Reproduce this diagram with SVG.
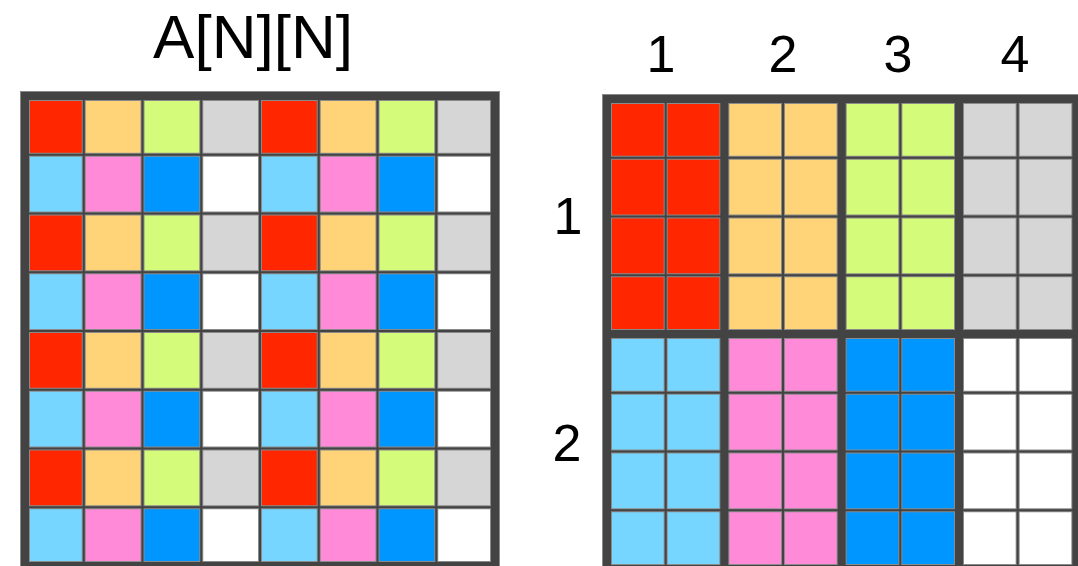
<svg xmlns="http://www.w3.org/2000/svg" width="1078" height="566" viewBox="0 0 1078 566">
<style>
.r{fill:#ff2600}.o{fill:#ffd479}.g{fill:#d4fb79}.s{fill:#d6d6d6}.b{fill:#76d6ff}.p{fill:#ff8ad8}.a{fill:#0096ff}.w{fill:#ffffff}
.tg{stroke:#8a8a8a;stroke-width:4;fill:none}.td{stroke:#434343;stroke-width:2;fill:none}
.kg{stroke:#8a8a8a;stroke-width:10;fill:none}.kd{stroke:#434343;stroke-width:8;fill:none}
.lbl{font-family:"Liberation Sans",Arial,sans-serif;fill:#000;text-anchor:middle}
</style>
<rect width="1078" height="566" fill="#ffffff"/>
<text class="lbl" x="253" y="58" font-size="62">A[N][N]</text>
<g id="left-grid">
<g id="left-cells">
<rect class="r" x="25" y="96" width="58.75" height="58.75"/><rect class="o" x="83.75" y="96" width="58.75" height="58.75"/><rect class="g" x="142.5" y="96" width="58.75" height="58.75"/><rect class="s" x="201.25" y="96" width="58.75" height="58.75"/><rect class="r" x="260" y="96" width="58.75" height="58.75"/><rect class="o" x="318.75" y="96" width="58.75" height="58.75"/><rect class="g" x="377.5" y="96" width="58.75" height="58.75"/><rect class="s" x="436.25" y="96" width="58.75" height="58.75"/>
<rect class="b" x="25" y="154.75" width="58.75" height="58.75"/><rect class="p" x="83.75" y="154.75" width="58.75" height="58.75"/><rect class="a" x="142.5" y="154.75" width="58.75" height="58.75"/><rect class="w" x="201.25" y="154.75" width="58.75" height="58.75"/><rect class="b" x="260" y="154.75" width="58.75" height="58.75"/><rect class="p" x="318.75" y="154.75" width="58.75" height="58.75"/><rect class="a" x="377.5" y="154.75" width="58.75" height="58.75"/><rect class="w" x="436.25" y="154.75" width="58.75" height="58.75"/>
<rect class="r" x="25" y="213.5" width="58.75" height="58.75"/><rect class="o" x="83.75" y="213.5" width="58.75" height="58.75"/><rect class="g" x="142.5" y="213.5" width="58.75" height="58.75"/><rect class="s" x="201.25" y="213.5" width="58.75" height="58.75"/><rect class="r" x="260" y="213.5" width="58.75" height="58.75"/><rect class="o" x="318.75" y="213.5" width="58.75" height="58.75"/><rect class="g" x="377.5" y="213.5" width="58.75" height="58.75"/><rect class="s" x="436.25" y="213.5" width="58.75" height="58.75"/>
<rect class="b" x="25" y="272.25" width="58.75" height="58.75"/><rect class="p" x="83.75" y="272.25" width="58.75" height="58.75"/><rect class="a" x="142.5" y="272.25" width="58.75" height="58.75"/><rect class="w" x="201.25" y="272.25" width="58.75" height="58.75"/><rect class="b" x="260" y="272.25" width="58.75" height="58.75"/><rect class="p" x="318.75" y="272.25" width="58.75" height="58.75"/><rect class="a" x="377.5" y="272.25" width="58.75" height="58.75"/><rect class="w" x="436.25" y="272.25" width="58.75" height="58.75"/>
<rect class="r" x="25" y="331" width="58.75" height="58.75"/><rect class="o" x="83.75" y="331" width="58.75" height="58.75"/><rect class="g" x="142.5" y="331" width="58.75" height="58.75"/><rect class="s" x="201.25" y="331" width="58.75" height="58.75"/><rect class="r" x="260" y="331" width="58.75" height="58.75"/><rect class="o" x="318.75" y="331" width="58.75" height="58.75"/><rect class="g" x="377.5" y="331" width="58.75" height="58.75"/><rect class="s" x="436.25" y="331" width="58.75" height="58.75"/>
<rect class="b" x="25" y="389.75" width="58.75" height="58.75"/><rect class="p" x="83.75" y="389.75" width="58.75" height="58.75"/><rect class="a" x="142.5" y="389.75" width="58.75" height="58.75"/><rect class="w" x="201.25" y="389.75" width="58.75" height="58.75"/><rect class="b" x="260" y="389.75" width="58.75" height="58.75"/><rect class="p" x="318.75" y="389.75" width="58.75" height="58.75"/><rect class="a" x="377.5" y="389.75" width="58.75" height="58.75"/><rect class="w" x="436.25" y="389.75" width="58.75" height="58.75"/>
<rect class="r" x="25" y="448.5" width="58.75" height="58.75"/><rect class="o" x="83.75" y="448.5" width="58.75" height="58.75"/><rect class="g" x="142.5" y="448.5" width="58.75" height="58.75"/><rect class="s" x="201.25" y="448.5" width="58.75" height="58.75"/><rect class="r" x="260" y="448.5" width="58.75" height="58.75"/><rect class="o" x="318.75" y="448.5" width="58.75" height="58.75"/><rect class="g" x="377.5" y="448.5" width="58.75" height="58.75"/><rect class="s" x="436.25" y="448.5" width="58.75" height="58.75"/>
<rect class="b" x="25" y="507.25" width="58.75" height="58.75"/><rect class="p" x="83.75" y="507.25" width="58.75" height="58.75"/><rect class="a" x="142.5" y="507.25" width="58.75" height="58.75"/><rect class="w" x="201.25" y="507.25" width="58.75" height="58.75"/><rect class="b" x="260" y="507.25" width="58.75" height="58.75"/><rect class="p" x="318.75" y="507.25" width="58.75" height="58.75"/><rect class="a" x="377.5" y="507.25" width="58.75" height="58.75"/><rect class="w" x="436.25" y="507.25" width="58.75" height="58.75"/>
</g>
<path class="tg" d="M83.75 96V566M142.5 96V566M201.25 96V566M260 96V566M318.75 96V566M377.5 96V566M436.25 96V566M25 154.75H495M25 213.5H495M25 272.25H495M25 331H495M25 389.75H495M25 448.5H495M25 507.25H495"/>
<rect class="kg" x="25" y="96" width="470" height="470"/>
<path class="td" d="M83.75 96V566M142.5 96V566M201.25 96V566M260 96V566M318.75 96V566M377.5 96V566M436.25 96V566M25 154.75H495M25 213.5H495M25 272.25H495M25 331H495M25 389.75H495M25 448.5H495M25 507.25H495"/>
<rect class="kd" x="25" y="96" width="470" height="470"/>
</g>
<g id="right-grid">
<rect class="r" x="607" y="99" width="117.33" height="235"/>
<rect class="o" x="724.33" y="99" width="117.33" height="235"/>
<rect class="g" x="841.67" y="99" width="117.33" height="235"/>
<rect class="s" x="959" y="99" width="117.33" height="235"/>
<rect class="b" x="607" y="334" width="117.33" height="235"/>
<rect class="p" x="724.33" y="334" width="117.33" height="235"/>
<rect class="a" x="841.67" y="334" width="117.33" height="235"/>
<rect class="w" x="959" y="334" width="117.33" height="235"/>
<path class="tg" d="M665.67 99V569M783 99V569M900.33 99V569M1017.67 99V569M607 157.75H1076.33M607 216.5H1076.33M607 275.25H1076.33M607 392.75H1076.33M607 451.5H1076.33M607 510.25H1076.33"/>
<path class="kg" d="M724.33 99V569M841.67 99V569M959 99V569M607 334H1076.33"/>
<rect class="kg" x="607" y="99" width="469.33" height="470"/>
<path class="td" d="M665.67 99V569M783 99V569M900.33 99V569M1017.67 99V569M607 157.75H1076.33M607 216.5H1076.33M607 275.25H1076.33M607 392.75H1076.33M607 451.5H1076.33M607 510.25H1076.33"/>
<path class="kd" d="M724.33 99V569M841.67 99V569M959 99V569M607 334H1076.33"/>
<rect class="kd" x="607" y="99" width="469.33" height="470"/>
</g>
<g id="labels">
<text class="lbl" x="661" y="72" font-size="52">1</text>
<text class="lbl" x="783" y="72" font-size="52">2</text>
<text class="lbl" x="898" y="72" font-size="52">3</text>
<text class="lbl" x="1015" y="72" font-size="52">4</text>
<text class="lbl" x="568" y="234" font-size="52">1</text>
<text class="lbl" x="567" y="461" font-size="52">2</text>
</g>
</svg>
